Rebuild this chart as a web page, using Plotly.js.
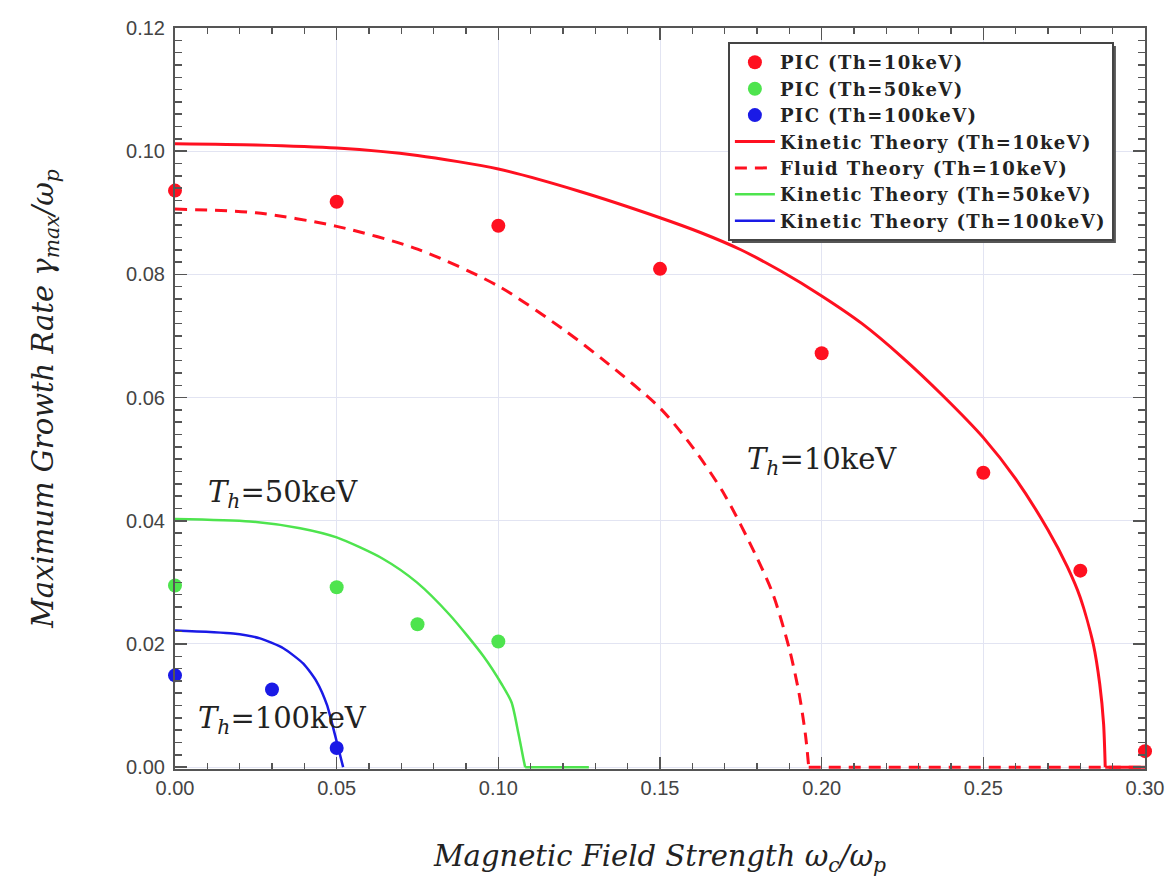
<!DOCTYPE html>
<html>
<head>
<meta charset="utf-8">
<script src="https://cdn.plot.ly/plotly-3.0.1.min.js"></script>
<style>
html,body{margin:0;padding:0;background:#fff;}
#chart{width:1168px;height:877px;}
.legendtext{letter-spacing:1.4px;}
</style>
</head>
<body>
<div id="chart"></div>
<script>
// PIC simulation points
const pic10X = [0, 0.05, 0.10, 0.15, 0.20, 0.25, 0.28, 0.30];
const pic10Y = [0.0936, 0.0918, 0.0879, 0.0809, 0.0672, 0.0478, 0.0319, 0.0026];
const pic50X = [0, 0.05, 0.075, 0.10];
const pic50Y = [0.0295, 0.0292, 0.0232, 0.0204];
const pic100X = [0, 0.03, 0.05];
const pic100Y = [0.0149, 0.0126, 0.0031];

// Theory curves (falling part)
const kin10X = [0, 0.025, 0.05, 0.075, 0.10, 0.125, 0.15, 0.1625, 0.175, 0.1875, 0.20, 0.2125, 0.225, 0.2375, 0.25, 0.26, 0.27, 0.276, 0.28, 0.284, 0.286, 0.2872, 0.2877];
const kin10Y = [0.1012, 0.1010, 0.1005, 0.0993, 0.0971, 0.0935, 0.0892, 0.0868, 0.0840, 0.0805, 0.0765, 0.0720, 0.0665, 0.0603, 0.0535, 0.0468, 0.0385, 0.0325, 0.0275, 0.0200, 0.0135, 0.0070, 0];
const fluid10X = [0, 0.025, 0.05, 0.075, 0.10, 0.12, 0.1337, 0.15, 0.16, 0.17, 0.18, 0.185, 0.19, 0.193, 0.195, 0.196];
const fluid10Y = [0.0906, 0.0900, 0.0878, 0.0841, 0.0781, 0.0711, 0.0656, 0.0583, 0.0520, 0.0442, 0.0340, 0.0280, 0.0192, 0.0120, 0.0052, 0];
const kin50X = [0, 0.0232, 0.0387, 0.05, 0.0644, 0.0748, 0.085, 0.0954, 0.101, 0.1041, 0.1062, 0.1077, 0.1083];
const kin50Y = [0.0403, 0.0399, 0.0388, 0.0373, 0.0338, 0.0300, 0.0247, 0.0180, 0.0135, 0.0105, 0.0055, 0.0015, 0];
const kin100X = [0, 0.018, 0.0263, 0.0335, 0.0397, 0.0438, 0.047, 0.0495, 0.052];
const kin100Y = [0.0222, 0.0217, 0.0209, 0.0193, 0.0168, 0.0139, 0.0101, 0.0052, 0];

// Zero-growth (stable) parts of the theory curves
const kin10ZeroX = [0.2877, 0.30];
const fluid10ZeroX = [0.196, 0.30];
const kin50ZeroX = [0.1083, 0.128];
const zeroY = [0, 0];

const legendNames = [
  'PIC (Th=10keV)', 'PIC (Th=50keV)', 'PIC (Th=100keV)',
  'Kinetic Theory (Th=10keV)', 'Fluid Theory (Th=10keV)',
  'Kinetic Theory (Th=50keV)', 'Kinetic Theory (Th=100keV)'
];
const labelTexts = ['<i>T<sub>h</sub></i>=10keV', '<i>T<sub>h</sub></i>=50keV', '<i>T<sub>h</sub></i>=100keV'];
const labelX = [0.2001, 0.0334, 0.0334];
const labelY = [0.0497, 0.0444, 0.0076];

const RED = '#ff1020', GREEN = '#4ee44e', BLUE = '#1a1ae6';
const kin10Line = {color: RED, width: 3};
const fluidLine = {color: RED, width: 3, dash: '12px,8px'};
const kin50Line = {color: GREEN, width: 2.5};
const kin100Line = {color: BLUE, width: 2.5};

const traces = [
  {x: pic10X, y: pic10Y, mode: 'markers', name: legendNames[0], marker: {color: RED, size: 14}, cliponaxis: false},
  {x: pic50X, y: pic50Y, mode: 'markers', name: legendNames[1], marker: {color: GREEN, size: 14}, cliponaxis: false},
  {x: pic100X, y: pic100Y, mode: 'markers', name: legendNames[2], marker: {color: BLUE, size: 14}, cliponaxis: false},
  {x: kin10X, y: kin10Y, mode: 'lines', name: legendNames[3], legendgroup: 'k10', line: Object.assign({shape: 'spline', smoothing: 0.7}, kin10Line)},
  {x: fluid10X, y: fluid10Y, mode: 'lines', name: legendNames[4], legendgroup: 'f10', line: Object.assign({shape: 'spline', smoothing: 0.8}, fluidLine)},
  {x: kin50X, y: kin50Y, mode: 'lines', name: legendNames[5], legendgroup: 'k50', line: Object.assign({shape: 'spline', smoothing: 0.7}, kin50Line)},
  {x: kin100X, y: kin100Y, mode: 'lines', name: legendNames[6], legendgroup: 'k100', line: Object.assign({shape: 'spline', smoothing: 0.6}, kin100Line)},
  {x: kin10ZeroX, y: zeroY, mode: 'lines', legendgroup: 'k10', showlegend: false, line: kin10Line},
  {x: fluid10ZeroX, y: zeroY, mode: 'lines', legendgroup: 'f10', showlegend: false, line: fluidLine},
  {x: kin50ZeroX, y: zeroY, mode: 'lines', legendgroup: 'k50', showlegend: false, line: kin50Line}
];

const axisCommon = {
  showline: true, linecolor: '#555', linewidth: 2, mirror: 'ticks',
  ticks: 'inside', tickcolor: '#555', tickwidth: 1.5,
  showgrid: true, gridcolor: '#e2e4f2', gridwidth: 1,
  zeroline: false,
  tickfont: {family: 'Liberation Sans, Arial, sans-serif', size: 20, color: '#444'},
  tickformat: '.2f'
};
const titleFont = {family: 'DejaVu Serif, serif', size: 29, color: '#222', style: 'italic'};

const layout = {
  width: 1168, height: 877,
  paper_bgcolor: '#ffffff', plot_bgcolor: '#ffffff',
  margin: {l: 175, r: 23, t: 28, b: 108},
  showlegend: true,
  legend: {
    x: 0.570, y: 0.981, xanchor: 'left', yanchor: 'top',
    bgcolor: '#ffffff', bordercolor: '#444', borderwidth: 2,
    font: {family: 'DejaVu Serif, serif', size: 18, color: '#222', weight: 'bold'},
    itemwidth: 40, tracegroupgap: 0
  },
  xaxis: Object.assign({}, axisCommon, {
    range: [0, 0.30], dtick: 0.05, tick0: 0, ticklen: 12,
    minor: {dtick: 0.01, ticks: 'inside', ticklen: 6, tickcolor: '#555', showgrid: false},
    title: {text: 'Magnetic Field Strength ω<sub>c</sub>/ω<sub>p</sub>', standoff: 48, font: titleFont}
  }),
  yaxis: Object.assign({}, axisCommon, {
    range: [-0.0003, 0.12], dtick: 0.02, tick0: 0, ticklen: 12, ticklabelstandoff: 4,
    minor: {dtick: 0.002, ticks: 'inside', ticklen: 7, tickcolor: '#555', showgrid: false},
    title: {text: 'Maximum Growth Rate γ<sub>max</sub>/ω<sub>p</sub>', standoff: 64, font: titleFont}
  }),
  annotations: labelTexts.map((t, i) => ({
    x: labelX[i], y: labelY[i], xref: 'x', yref: 'y', text: t, showarrow: false,
    font: {family: 'DejaVu Serif, serif', size: 29, color: '#222'}
  }))
};

Plotly.newPlot('chart', traces, layout, {staticPlot: true}).then(function (gd) {
  // drop shadow behind the legend box
  const bg = gd.querySelector('.legend .bg');
  if (!bg) return;
  const r = bg.getBoundingClientRect();
  const c = gd.getBoundingClientRect();
  const s = gd._fullLayout._size;
  const off = 3;
  const px = v => (v - c.left - s.l) / s.w;
  const py = v => 1 - (v - c.top - s.t) / s.h;
  return Plotly.relayout(gd, {shapes: [{
    type: 'rect', xref: 'paper', yref: 'paper', layer: 'above',
    x0: px(r.left + off), x1: px(r.right + off),
    y0: py(r.bottom + off), y1: py(r.top + off),
    fillcolor: '#555', line: {width: 0}
  }]});
});
</script>
</body>
</html>
